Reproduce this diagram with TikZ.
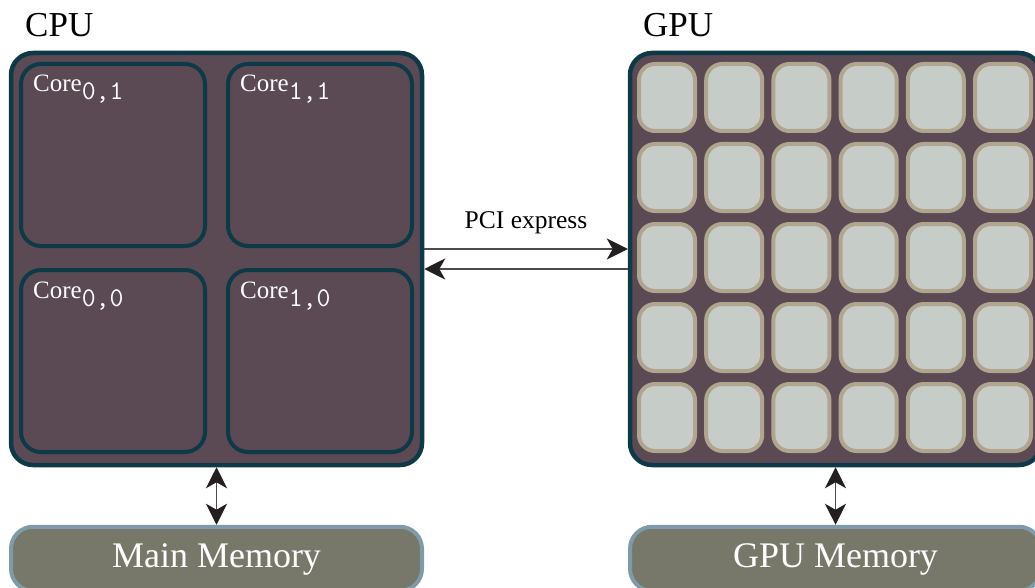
\documentclass[tikz,border=0pt]{standalone}
\usepackage{fontspec}
\setmainfont{Liberation Serif}
\usetikzlibrary{arrows.meta}

\definecolor{chipfill}{HTML}{5B4A54}
\definecolor{chipedge}{HTML}{0E3A47}
\definecolor{cellfill}{HTML}{C6CDC9}
\definecolor{celledge}{HTML}{B0A690}
\definecolor{memfill}{HTML}{77776A}
\definecolor{memedge}{HTML}{7E9BAA}
\definecolor{tipcolor}{HTML}{231F20}

\tikzset{
  chip/.style={draw=chipedge, fill=chipfill, line width=4.5pt, rounded corners=22pt,
    minimum width=411pt, minimum height=412pt, inner sep=0pt},
  corebox/.style={draw=chipedge, fill=chipfill, line width=4pt, rounded corners=20pt,
    minimum width=184pt, minimum height=182pt, inner sep=0pt},
  cell/.style={draw=celledge, fill=cellfill, line width=4pt, rounded corners=16pt,
    minimum width=56pt, minimum height=67pt, inner sep=0pt},
  memory/.style={draw=memedge, fill=memfill, line width=4pt, rounded corners=22pt,
    minimum width=411pt, minimum height=64pt, inner sep=0pt, text=white,
    font=\fontsize{36}{40}\selectfont, text height=24.5pt, text depth=8pt},
  title/.style={anchor=base west, inner sep=0pt, font=\fontsize{35}{40}\selectfont},
  corelabel/.style={anchor=base west, inner sep=0pt, text=white,
    font=\fontsize{25}{30}\selectfont},
  bigtip/.tip={Stealth[length=21pt, width=21pt, inset=6pt, color=tipcolor]},
  link/.style={draw=black!70, line width=1.2pt, arrows={-bigtip}},
  duplex/.style={draw=black!70, line width=1.2pt, arrows={bigtip-bigtip}},
}
\newcommand{\coresub}[1]{\raisebox{-8pt}{\fontsize{27}{27}\ttfamily #1}}

\begin{document}
\begin{tikzpicture}[x=1pt, y=-1pt]
  \useasboundingbox (0,0) rectangle (1035,588);
  \clip (0,0) rectangle (1035,588);

  % CPU with four cores
  \node[title] (cputitle) at (25,37) {CPU};
  \node[chip] (cpu) at (216.5,259) {};
  \node[corebox] (core01) at (113,155) {};
  \node[corebox] (core11) at (320,155) {};
  \node[corebox] (core00) at (113,361) {};
  \node[corebox] (core10) at (320,361) {};
  \foreach \c/\s in {core01/{0,1}, core11/{1,1}, core00/{0,0}, core10/{1,0}}
    \node[corelabel] (\c label) at ([xshift=14pt, yshift=-30pt]\c.north west) {Core\coresub{\s}};

  % GPU with a grid of small cores
  \node[title] (gputitle) at (643,37) {GPU};
  \node[chip] (gpu) at (835.5,259) {};
  \foreach \i in {0,...,5}
    \foreach \j in {0,...,4}
      \node[cell] (cell\i\j) at (667+67.2*\i, 97.5+80*\j) {};

  % memories
  \node[memory] (mainmem) at (216.5,558.75) {Main Memory};
  \node[memory] (gpumem) at (835.5,558.75) {GPU Memory};

  % PCI express link
  \node[anchor=base, inner sep=0pt, font=\fontsize{25.5}{30}\selectfont] (pci) at (526,228) {PCI express};
  \draw[link] ([yshift=10pt]cpu.east) -- ([yshift=10pt]gpu.west);
  \draw[link] ([yshift=-10pt]gpu.west) -- ([yshift=-10pt]cpu.east);

  % memory buses
  \draw[duplex] (cpu.south) -- (mainmem.north);
  \draw[duplex] (gpu.south) -- (gpumem.north);
\end{tikzpicture}
\end{document}
